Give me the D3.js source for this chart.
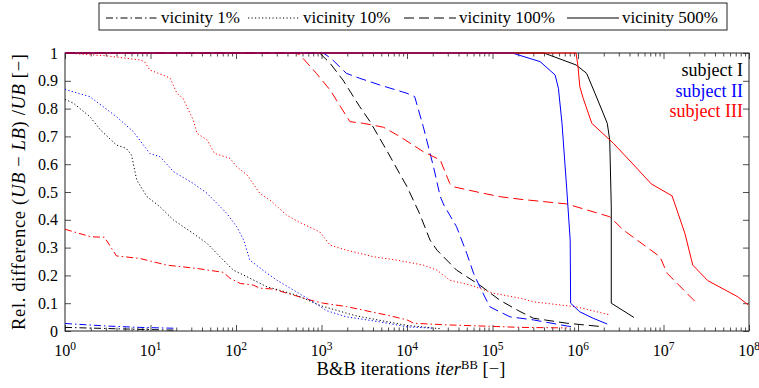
<!DOCTYPE html>
<html>
<head>
<meta charset="utf-8">
<title>B&amp;B convergence</title>
<script src="https://d3js.org/d3.v7.min.js"></script>
<style>
  body { margin: 0; background: #fff; }
  svg text { font-family: "Liberation Serif", serif; fill: #000; }
</style>
</head>
<body>
<svg width="759" height="388"></svg>
<script>
// tick values
var xTicks = [1e0, 1e1, 1e2, 1e3, 1e4, 1e5, 1e6, 1e7, 1e8];
var xTickExp = ["0", "1", "2", "3", "4", "5", "6", "7", "8"];
var yTicks = [0, 0.1, 0.2, 0.3, 0.4, 0.5, 0.6, 0.7, 0.8, 0.9, 1];
var yTickLabels = ["0", "0.1", "0.2", "0.3", "0.4", "0.5", "0.6", "0.7", "0.8", "0.9", "1"];

var vicinities = ["vicinity 1%", "vicinity 10%", "vicinity 100%", "vicinity 500%"];
var subjects = ["subject I", "subject II", "subject III"];

// [iterations, relative gap]
// vicinity 1%
var v1_I = [[1, 0.013], [4, 0.008], [10, 0.005], [20, 0.003]];
var v1_II = [[1, 0.027], [3, 0.018], [7.5, 0.013], [18.5, 0.01]];
var v1_III = [[1, 0.366], [2, 0.339], [2.9, 0.337], [4, 0.27], [7.5, 0.261], [15.5, 0.237], [35, 0.225],
  [71, 0.211], [85, 0.19], [112, 0.171], [160, 0.165], [190, 0.154], [270, 0.151], [510, 0.126],
  [740, 0.111], [1050, 0.1], [1950, 0.088], [3080, 0.075], [6300, 0.055], [1e4, 0.04], [12000, 0.028],
  [29000, 0.022], [93000, 0.017], [2.1e5, 0.013], [7.4e5, 0.011]];

// vicinity 10%
var v10_I = [[1, 0.833], [1.26, 0.819], [1.95, 0.771], [2.6, 0.723], [4, 0.669], [5.2, 0.657], [6, 0.633],
  [6.9, 0.543], [9.1, 0.483], [12.9, 0.447], [18.6, 0.399], [31.6, 0.351], [46, 0.315], [65, 0.267],
  [93, 0.219], [135, 0.195], [230, 0.159], [320, 0.147], [510, 0.129], [1000, 0.09], [2500, 0.055],
  [1e4, 0.02], [25000, 0.008]];
var v10_II = [[1, 0.869], [1.95, 0.843], [4, 0.771], [6.3, 0.717], [9.8, 0.639], [12.9, 0.627], [18.6, 0.573],
  [31.6, 0.531], [46, 0.495], [78, 0.423], [102, 0.375], [123, 0.327], [145, 0.255], [230, 0.208],
  [300, 0.183], [470, 0.147], [680, 0.118], [1150, 0.073], [1950, 0.051], [4800, 0.033], [1e4, 0.015],
  [20000, 0.01]];
var v10_III = [[1, 1], [3, 0.99], [7.5, 0.975], [8.5, 0.969], [9.8, 0.939], [15.5, 0.915], [17, 0.909],
  [20.4, 0.855], [24, 0.837], [31.6, 0.759], [35, 0.711], [46, 0.687], [56, 0.639], [85, 0.621],
  [102, 0.591], [135, 0.561], [190, 0.495], [250, 0.471], [390, 0.417], [560, 0.39], [950, 0.357],
  [1260, 0.309], [1950, 0.291], [4070, 0.267], [7600, 0.255], [15500, 0.237], [22400, 0.219],
  [31600, 0.183], [55000, 0.165], [1.02e5, 0.136], [2.1e5, 0.118], [3e5, 0.105], [9.5e5, 0.087],
  [2.35e6, 0.058]];

// vicinity 100%
var v100_I = [[1, 1], [950, 1], [1260, 0.963], [1780, 0.903], [2800, 0.807], [3700, 0.753], [5750, 0.651],
  [1e4, 0.519], [14000, 0.423], [18600, 0.327], [22400, 0.291], [38000, 0.219], [71000, 0.165],
  [1.23e5, 0.11], [2.1e5, 0.07], [3e5, 0.046], [7.4e5, 0.028], [2e6, 0.015]];
var v100_II = [[1, 1], [1050, 1], [1300, 0.98], [1950, 0.927], [2800, 0.909], [4800, 0.885], [1e4, 0.855],
  [12300, 0.843], [15500, 0.735], [20400, 0.591], [24500, 0.483], [27000, 0.453], [38000, 0.375],
  [50000, 0.279], [60000, 0.208], [71000, 0.159], [93000, 0.087], [1.6e5, 0.051], [3e5, 0.04],
  [7.4e5, 0.018], [8.7e5, 0.015]];
var v100_III = [[1, 1], [500, 1], [560, 0.993], [870, 0.927], [1260, 0.867], [2150, 0.753], [3100, 0.747],
  [5300, 0.733], [8300, 0.699], [15500, 0.645], [24500, 0.615], [31600, 0.531], [34700, 0.519],
  [71000, 0.498], [1.23e5, 0.483], [2.1e5, 0.474], [7.4e5, 0.457], [2.35e6, 0.411], [3.4e6, 0.363],
  [9.1e6, 0.267], [1.1e7, 0.208], [2.45e7, 0.1]];

// vicinity 500%
var v500_I = [[1, 1], [4e5, 1], [9.5e5, 0.957], [1.26e6, 0.927], [1.58e6, 0.855], [1.9e6, 0.795],
  [2.2e6, 0.747], [2.35e6, 0.687], [2.45e6, 0.447], [2.45e6, 0.1], [4.5e6, 0.049]];
var v500_II = [[1, 1], [1.7e5, 1], [3.6e5, 0.969], [5.4e5, 0.921], [5.9e5, 0.873], [6.5e5, 0.747],
  [7.4e5, 0.507], [8.1e5, 0.327], [8.2e5, 0.1], [1.05e6, 0.069], [1.5e6, 0.046], [2.2e6, 0.025]];
var v500_III = [[1, 1], [9.5e5, 1], [1e6, 0.951], [1.05e6, 0.879], [1.15e6, 0.837], [1.45e6, 0.747],
  [2.6e6, 0.675], [4.5e6, 0.597], [7.2e6, 0.529], [1.26e7, 0.486], [1.78e7, 0.351], [2.2e7, 0.237],
  [3.3e7, 0.181], [7.4e7, 0.123], [9.8e7, 0.094]];

var series = [
  [v1_I, v1_II, v1_III],
  [v10_I, v10_II, v10_III],
  [v100_I, v100_II, v100_III],
  [v500_I, v500_II, v500_III]
];

// styles
var colors = ["#000", "#0000ff", "#ff0000"];
var dashes = ["7,3,1.5,3", "1.2,2.3", "10,5", null];

var svg = d3.select("svg");
var plotL = 65, plotR = 749, plotT = 53, plotB = 331;

var x = d3.scaleLog().domain([1, 1e8]).range([plotL, plotR]);
var y = d3.scaleLinear().domain([0, 1]).range([plotB, plotT]);

// minor ticks 2..9 per decade
var minor = [];
for (var k = 0; k < 8; k++) for (var m = 2; m < 10; m++) minor.push(m * Math.pow(10, k));

function noLabel(ax) { return ax.tickFormat("").tickSizeOuter(0); }

svg.append("g").attr("transform", "translate(0," + plotB + ")")
  .call(noLabel(d3.axisBottom(x).tickValues(xTicks).tickSizeInner(-6)));
svg.append("g").attr("transform", "translate(0," + plotB + ")")
  .call(noLabel(d3.axisBottom(x).tickValues(minor).tickSizeInner(-3.5)));
svg.append("g").attr("transform", "translate(0," + plotT + ")")
  .call(noLabel(d3.axisTop(x).tickValues(xTicks).tickSizeInner(-6)));
svg.append("g").attr("transform", "translate(0," + plotT + ")")
  .call(noLabel(d3.axisTop(x).tickValues(minor).tickSizeInner(-3.5)));
svg.append("g").attr("transform", "translate(" + plotL + ",0)")
  .call(noLabel(d3.axisLeft(y).tickValues(yTicks).tickSizeInner(-6)));
svg.append("g").attr("transform", "translate(" + plotR + ",0)")
  .call(noLabel(d3.axisRight(y).tickValues(yTicks).tickSizeInner(-6)));
svg.selectAll(".domain").remove();
svg.selectAll(".tick line").attr("stroke", "#222").attr("stroke-width", 0.8);

svg.append("rect")
  .attr("x", plotL).attr("y", plotT)
  .attr("width", plotR - plotL).attr("height", plotB - plotT)
  .attr("fill", "none").attr("stroke", "#222").attr("stroke-width", 1);

// tick labels
var xl = svg.append("g").selectAll("text").data(xTicks).enter().append("text")
  .attr("x", function(d) { return x(d); })
  .attr("y", 356)
  .attr("text-anchor", "middle")
  .style("font-size", "16px");
xl.append("tspan").text("10");
xl.append("tspan").attr("dy", -6).style("font-size", "11.5px")
  .text(function(d, i) { return xTickExp[i]; });

svg.append("g").selectAll("text").data(yTicks).enter().append("text")
  .attr("x", 58)
  .attr("y", function(d) { return y(d) + 5.5; })
  .attr("text-anchor", "end")
  .style("font-size", "16px")
  .text(function(d, i) { return yTickLabels[i]; });

// axis titles
var xt = svg.append("text").attr("x", 411).attr("y", 375)
  .attr("text-anchor", "middle").style("font-size", "18.5px")
  .attr("textLength", 189).attr("lengthAdjust", "spacing");
xt.append("tspan").text("B&B iterations ");
xt.append("tspan").style("font-style", "italic").text("iter");
xt.append("tspan").attr("dy", -6).style("font-size", "12.5px").text("BB");
xt.append("tspan").attr("dy", 6).text(" [\u2212]");

var yt = svg.append("text")
  .attr("transform", "translate(25," + ((plotT + plotB) / 2) + ") rotate(-90)")
  .attr("text-anchor", "middle").style("font-size", "18.5px")
  .attr("textLength", 276).attr("lengthAdjust", "spacing");
yt.append("tspan").text("Rel. difference (");
yt.append("tspan").style("font-style", "italic").text("UB");
yt.append("tspan").text(" \u2212 ");
yt.append("tspan").style("font-style", "italic").text("LB");
yt.append("tspan").text(") /");
yt.append("tspan").style("font-style", "italic").text("UB");
yt.append("tspan").text(" [\u2212]");

// curves
var line = d3.line()
  .x(function(d) { return x(d[0]); })
  .y(function(d) { return y(d[1]); });

series.forEach(function(group, vi) {
  group.forEach(function(data, si) {
    svg.append("path")
      .datum(data)
      .attr("fill", "none")
      .attr("stroke", colors[si])
      .attr("stroke-width", 1)
      .attr("stroke-dasharray", dashes[vi])
      .attr("d", line);
  });
});

// subject labels
svg.append("g").selectAll("text").data(subjects).enter().append("text")
  .attr("x", 743)
  .attr("y", function(d, i) { return 76 + i * 20.5; })
  .attr("text-anchor", "end")
  .style("font-size", "18px")
  .style("fill", function(d, i) { return colors[i]; })
  .text(function(d) { return d; });

// legend
var legend = svg.append("g");
legend.append("rect")
  .attr("x", 99).attr("y", 3).attr("width", 628).attr("height", 27)
  .attr("fill", "#fff").attr("stroke", "#222").attr("stroke-width", 1);
var legendX = [106, 248, 404, 567];
vicinities.forEach(function(name, i) {
  legend.append("line")
    .attr("x1", legendX[i]).attr("x2", legendX[i] + 52)
    .attr("y1", 18).attr("y2", 18)
    .attr("stroke", "#000").attr("stroke-width", 1)
    .attr("stroke-dasharray", dashes[i]);
  legend.append("text")
    .attr("x", legendX[i] + 55).attr("y", 23)
    .style("font-size", "17px")
    .text(name);
});
</script>
</body>
</html>
